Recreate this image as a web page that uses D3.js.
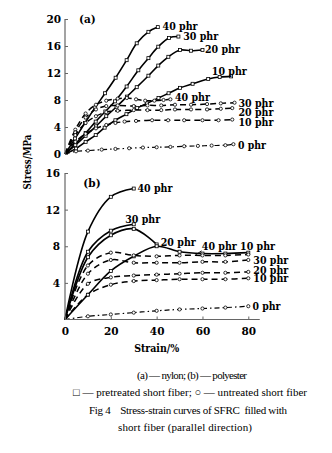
<!DOCTYPE html>
<html><head><meta charset="utf-8">
<script src="https://cdn.jsdelivr.net/npm/d3@7"></script>
<style>
html,body{margin:0;padding:0;background:#fff;}
svg{display:block;}
.lbl{font-family:'DejaVu Serif',serif;font-weight:bold;font-size:10.5px;fill:#000;}
.cap{font-family:'Liberation Serif',serif;font-size:11px;fill:#000;}
</style>
</head><body>
<svg id="chart" width="332" height="453"></svg>
<script>
// ---------- tick values ----------
const strainTicks = [0, 20, 40, 60, 80];
const stressTicksA = [0, 4, 8, 12, 16, 20];
const stressTicksB = [4, 8, 12, 16];

// ---------- (a) nylon : [strain %, stress MPa] ----------
const nylonPre40 = [[0,0],[4.4,2.3],[8.7,4.6],[13.2,6.9],[17.5,9.0],[22.1,11.3],[26.9,13.9],[31.3,16.4],[36.4,18.1],[40.5,18.8]];
const nylonPre30 = [[0,0],[4.5,1.5],[9,3.1],[13.4,4.8],[17.6,6.3],[21.8,7.8],[26.9,10],[32,12.4],[36.4,14.2],[40.7,15.9],[45.4,17.2],[49.5,17.4]];
const nylonPre20 = [[0,0],[4.5,1.3],[9,2.7],[13.5,4.1],[18,5.6],[22.5,7.0],[27,8.5],[31.3,9.9],[36.4,11.6],[40.7,13.1],[45.1,14.4],[50.2,15.4],[55,15.3],[60,15.4]];
const nylonPre10 = [[0,0],[4.8,0.8],[9,1.8],[13.4,2.8],[17.3,3.9],[22,5],[26.8,5.9],[31.5,6.8],[35.8,7.5],[40.8,8.3],[45.2,9],[50.2,9.8],[55.7,10.4],[62.5,11.1],[67.5,11.4],[72.5,11.5]];
const nylonUn40 = [[0,0],[4.5,3.6],[9,6.0],[13.5,7.3],[18,7.9],[23,8.2],[27,8.3],[31,8.1],[35,7.9],[39,7.9],[43,8.0],[46,8.1]];
const nylonUn30 = [[0,0],[4.5,3.2],[9,5.4],[13.5,6.6],[18,7.1],[23,7.2],[30,7.1],[36,7.2],[42,7.2],[48,7.3],[55,7.3],[62,7.4],[68,7.5],[74,7.6]];
const nylonUn20 = [[0,0],[4.5,2.8],[9,4.6],[13.5,5.6],[18,6.2],[23,6.4],[30,6.5],[36,6.5],[42,6.5],[48,6.6],[55,6.6],[62,6.6],[68,6.7],[73,6.8]];
const nylonUn10 = [[0,0],[4.5,1.8],[9,3.0],[13.5,3.8],[18,4.3],[22,4.6],[26,4.8],[31,4.9],[38,5.0],[45,5.0],[52,5.0],[60,5.0],[67,5.0],[73,5.1]];
const nylon0 = [[0,0],[4.8,0.4],[10,0.5],[16,0.65],[22,0.75],[28,0.85],[34,0.95],[40,1.0],[46,1.05],[52,1.15],[58,1.2],[64,1.25],[70,1.3],[73.5,1.45]];

// ---------- (b) polyester ----------
const polyPre40 = [[0,0],[10,9.6],[20,13.4],[30,14.3]];
const polyPre30 = [[0,0],[10,7.4],[20,9.7],[30,10.4]];
const polyPre20 = [[0,0],[10,6.8],[20,9.2],[30,9.9],[40,8.2]];
const polyPre10 = [[0,0],[10,2.7],[20,5.3],[30,6.9],[40,8.0],[50,7.4],[60,7.2],[70,7.2],[80,7.3]];
const polyUn40 = [[0,0],[10,5.9],[20,7.3],[30,7.0],[40,6.9],[50,7.0],[60,7.0],[70,7.0],[80,7.1]];
const polyUn30 = [[0,0],[10,5.0],[20,6.5],[30,6.2],[40,6.2],[50,6.2],[60,6.3],[70,6.3],[80,6.5]];
const polyUn20 = [[0,0],[10,3.9],[20,4.6],[30,4.8],[40,4.9],[50,5.0],[60,5.1],[70,5.1],[80,5.2]];
const polyUn10 = [[0,0],[10,2.7],[20,3.8],[30,4.2],[40,4.3],[50,4.4],[60,4.4],[70,4.4],[80,4.5]];
const poly0 = [[0,0],[10,0.35],[20,0.55],[30,0.75],[40,0.95],[50,1.1],[60,1.2],[70,1.3],[80,1.45]];

// ---------- labels (text, strain, stress) ----------
const labelsA = [["(a)",6.1,19.4],["40 phr",42.6,18.4],["30 phr",51.6,16.95],["20 phr",61.1,14.9],["10 phr",64.1,11.7],
  ["40 phr",48.0,7.8],["30 phr",75.7,7.0],["20 phr",75.7,5.7],["10 phr",75.7,4.15],["0 phr",75.5,0.67]];
const labelsB = [["(b)",8.0,14.45],["40 phr",31.6,13.95],["30 phr",26.3,10.55],["20 phr",41.8,8.05],["40 phr",59.7,7.6],["10 phr",76.4,7.6],
  ["30 phr",82.2,6.05],["20 phr",82.2,5.0],["10 phr",82.2,4.05],["0 phr",81.8,1.05]];
const leaderB = [[57,7.05],[59.6,7.5]];

const captionLines = ["(a) — nylon; (b) — polyester",
  "□ — pretreated short fiber; ○ — untreated short fiber",
  "Fig 4    Stress-strain curves of SFRC  filled with",
  "short fiber (parallel direction)"];

// ---------- layout ----------
const svg = d3.select("#chart");
const x = d3.scaleLinear().domain([0, 80]).range([65, 248.3]);
const yA = d3.scaleLinear().domain([0, 20]).range([154, 19]);
const yB = d3.scaleLinear().domain([0, 16]).range([319.5, 173]);
const axisColor = "#666";

function labelWidth(t) { return t.length === 3 ? null : (t.length === 5 ? 28 : 35); }

function drawPanel(y, series, labels) {
  const g = svg.append("g");
  const line = d3.line().x(d => x(d[0])).y(d => y(d[1])).curve(d3.curveCatmullRom.alpha(0.5));
  series.forEach(s => {
    const p = g.append("path").datum(s.data).attr("d", line)
      .attr("fill", "none").attr("stroke", "#000").attr("stroke-width", s.kind === "pre" ? 1.6 : 1.5);
    if (s.kind === "un") p.attr("stroke-dasharray", "6,4");
    if (s.kind === "zero") p.attr("stroke-dasharray", "5,3,1.5,3").attr("stroke-width", 1.2);
    const pts = s.data.slice(1);
    if (s.kind === "pre") {
      g.selectAll(null).data(pts).enter().append("rect")
        .attr("x", d => x(d[0]) - 1.5).attr("y", d => y(d[1]) - 1.5).attr("width", 3).attr("height", 3)
        .attr("fill", "#fff").attr("stroke", "#000").attr("stroke-width", 0.8);
    } else {
      g.selectAll(null).data(pts).enter().append("circle")
        .attr("cx", d => x(d[0])).attr("cy", d => y(d[1])).attr("r", 1.6)
        .attr("fill", "#fff").attr("stroke", "#000").attr("stroke-width", 0.8);
    }
  });
  g.selectAll(null).data(labels).enter().append("text").attr("class", "lbl")
    .attr("x", d => x(d[1])).attr("y", d => y(d[2]))
    .each(function(d) {
      const w = labelWidth(d[0]);
      if (w) d3.select(this).attr("textLength", w).attr("lengthAdjust", "spacingAndGlyphs");
    })
    .text(d => d[0]);
  return g;
}

drawPanel(yA, [
  {data: nylonPre40, kind: "pre"}, {data: nylonPre30, kind: "pre"}, {data: nylonPre20, kind: "pre"}, {data: nylonPre10, kind: "pre"},
  {data: nylonUn40, kind: "un"}, {data: nylonUn30, kind: "un"}, {data: nylonUn20, kind: "un"}, {data: nylonUn10, kind: "un"},
  {data: nylon0, kind: "zero"}], labelsA);

const gB = drawPanel(yB, [
  {data: polyPre40, kind: "pre"}, {data: polyPre30, kind: "pre"}, {data: polyPre20, kind: "pre"}, {data: polyPre10, kind: "pre"},
  {data: polyUn40, kind: "un"}, {data: polyUn30, kind: "un"}, {data: polyUn20, kind: "un"}, {data: polyUn10, kind: "un"},
  {data: poly0, kind: "zero"}], labelsB);
gB.append("path").datum(leaderB).attr("d", d3.line().x(d => x(d[0])).y(d => yB(d[1])))
  .attr("stroke", "#000").attr("stroke-width", 0.9).attr("fill", "none");

// ---------- axes ----------
function styleAxis(g) {
  g.attr("font-family", null).attr("font-size", null);
  g.select(".domain").remove();
  g.selectAll("line").attr("stroke", axisColor).attr("stroke-width", 1);
  g.selectAll("text").attr("class", "lbl");
}
const axA = svg.append("g").attr("transform", `translate(${x(0)},0)`)
  .call(d3.axisLeft(yA).tickValues(stressTicksA).tickSizeInner(-3).tickSizeOuter(0).tickPadding(4));
styleAxis(axA);
svg.append("line").attr("x1", x(0)).attr("x2", x(0)).attr("y1", yA(0)).attr("y2", yA(20))
  .attr("stroke", axisColor).attr("stroke-width", 1.2);

const axB = svg.append("g").attr("transform", `translate(${x(0)},0)`)
  .call(d3.axisLeft(yB).tickValues(stressTicksB).tickSizeInner(-3).tickSizeOuter(0).tickPadding(5));
styleAxis(axB);
svg.append("line").attr("x1", x(0)).attr("x2", x(0)).attr("y1", yB(0)).attr("y2", yB(16))
  .attr("stroke", axisColor).attr("stroke-width", 1.2);

const axX = svg.append("g").attr("transform", `translate(0,${yB(0)})`)
  .call(d3.axisBottom(x).tickValues(strainTicks).tickSizeInner(-3).tickSizeOuter(0).tickPadding(8));
styleAxis(axX);
svg.append("line").attr("x1", x(0)).attr("x2", x(85)).attr("y1", yB(0)).attr("y2", yB(0))
  .attr("stroke", axisColor).attr("stroke-width", 1.2);

// axis titles
svg.append("text").attr("class", "lbl").style("font-size", "11px")
  .attr("text-anchor", "middle").attr("transform", "translate(30.5,162) rotate(-90)")
  .attr("textLength", 55).attr("lengthAdjust", "spacingAndGlyphs").text("Stress/MPa");
svg.append("text").attr("class", "lbl").style("font-size", "11px")
  .attr("text-anchor", "middle").attr("x", x(40)).attr("y", 351.5)
  .attr("textLength", 45).attr("lengthAdjust", "spacingAndGlyphs").text("Strain/%");

// caption
const capY = [379, 395.5, 413.5, 431];
const capW = [110, 234, 198, 134];
const capX = [192, 190, 188, 185];
captionLines.forEach((t, i) => {
  svg.append("text").attr("class", "cap").attr("x", capX[i]).attr("y", capY[i])
    .attr("text-anchor", "middle").attr("xml:space", "preserve")
    .attr("textLength", capW[i]).attr("lengthAdjust", "spacing").text(t);
});
</script>
</body></html>
